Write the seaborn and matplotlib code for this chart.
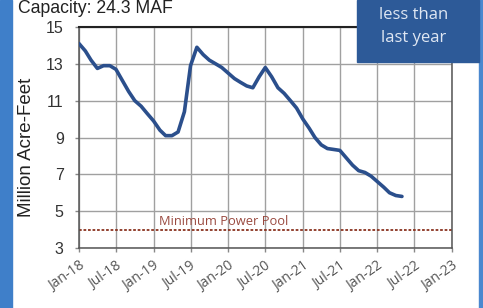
import numpy as np
import pandas as pd
import matplotlib
matplotlib.use("Agg")
import matplotlib.pyplot as plt
import matplotlib.dates as mdates
import matplotlib.transforms as mtransforms
import seaborn as sns

# monthly storage, Jan-18 .. May-22 (million acre-feet)
months = pd.date_range("2018-01-01", "2022-05-01", freq="MS")
storage = [
    14.1, 13.7, 13.2, 12.75, 12.9, 12.9, 12.7, 12.1, 11.5, 11.0, 10.7, 10.3,
    9.9, 9.4, 9.1, 9.1, 9.3, 10.4, 12.9, 13.9, 13.5, 13.2, 13.0, 12.8,
    12.5, 12.2, 12.0, 11.8, 11.7, 12.3, 12.8, 12.3, 11.7, 11.4, 11.0, 10.6,
    10.0, 9.5, 9.0, 8.6, 8.4, 8.35, 8.3, 7.9, 7.5, 7.2, 7.1, 6.9,
    6.6, 6.3, 6.0, 5.85, 5.8,
]
min_power_pool = 4.0
y_ticks = [3, 5, 7, 9, 11, 13, 15]
x_start, x_end = pd.Timestamp("2018-01-01"), pd.Timestamp("2023-01-01")

df = pd.DataFrame({"month": months, "storage": storage})

grid_col = "#a0a0a0"
sns.set_style("whitegrid", {"grid.color": grid_col, "axes.edgecolor": "#555555"})
plt.rcParams["font.family"] = ["Liberation Sans", "DejaVu Sans"]

fig = plt.figure(figsize=(4.83, 3.08), dpi=100)

rect = [79 / 483, 1 - 248 / 308, 373 / 483, 221 / 308]

# background axes only for the grid
ax_bg = fig.add_axes(rect, zorder=0)
ax_bg.set_xlim(x_start, x_end)
ax_bg.set_ylim(3, 15)
ax_bg.set_yticks(y_ticks)
ax_bg.xaxis.set_major_locator(mdates.MonthLocator(bymonth=[1, 7]))
ax_bg.grid(True, color=grid_col, linewidth=1.0)
ax_bg.tick_params(labelbottom=False, labelleft=False, length=0)
for sp in ax_bg.spines.values():
    sp.set_visible(False)

ax = fig.add_axes(rect, zorder=1)
ax.patch.set_alpha(0)

sns.lineplot(data=df, x="month", y="storage", ax=ax, color="#2b4f8c",
             linewidth=2.6, zorder=3)

ax.axhline(min_power_pool, color="#8a3320", linestyle=(0, (1.5, 1)),
           linewidth=1.3, zorder=2)
ax.text(pd.Timestamp("2019-12-10"), 4.45, "Minimum Power Pool",
        ha="center", va="center", fontsize=9.3, color="#9a4a40",
        family=["Open Sans", "DejaVu Sans"])

ax.set_xlim(x_start, x_end)
ax.set_ylim(3, 15)
ax.set_yticks(y_ticks)
ax.xaxis.set_major_locator(mdates.MonthLocator(bymonth=[1, 7]))
ax.xaxis.set_major_formatter(mdates.DateFormatter("%b-%y"))
ax.grid(False)
ax.tick_params(axis="y", labelsize=11.5, colors="#888888", labelcolor="#333333",
               length=3, width=1.0, direction="out", pad=8, left=True)
ax.tick_params(axis="x", length=3, width=1.0, direction="out", colors="#888888",
               labelcolor="#555555", pad=9, bottom=True)

# labels shifted a little to the right, like the original
shift = mtransforms.ScaledTranslation(4 / 100, 0, fig.dpi_scale_trans)
for lab in ax.get_xticklabels():
    lab.set_rotation(35)
    lab.set_ha("right")
    lab.set_va("center")
    lab.set_rotation_mode("anchor")
    lab.set_fontsize(10)
    lab.set_color("#555555")
    lab.set_family(["Open Sans", "DejaVu Sans"])
    lab.set_transform(lab.get_transform() + shift)

for side in ["left", "right", "bottom"]:
    ax.spines[side].set_color("#555555")
    ax.spines[side].set_linewidth(1.1)
ax.spines["top"].set_color("#222222")
ax.spines["top"].set_linewidth(1.5)

ax.set_xlabel("")
ax.set_ylabel("Million Acre-Feet", fontsize=13.5, color="#222222")
ax.yaxis.set_label_coords(-0.118, 0.457)

# blue side strips of the slide
fig.add_artist(plt.Rectangle((0, 0), 12 / 483, 1, transform=fig.transFigure,
                             color="#3f7fc9", zorder=4))
fig.add_artist(plt.Rectangle((479 / 483, 0), 4 / 483, 1, transform=fig.transFigure,
                             color="#4a88cf", zorder=4))

fig.text(18 / 483, 1 - 13 / 308, "Capacity: 24.3 MAF", fontsize=12.7,
         color="#222222", va="baseline", ha="left")

# blue callout box, top right
fig.add_artist(plt.Rectangle((357 / 483, 1 - 62 / 308), 122 / 483, 62 / 308,
                             transform=fig.transFigure, color="#2d5a98", zorder=5))
fig.text(414 / 483, 1 - 15 / 308, "less than", fontsize=12, color="#dfe7f3",
         ha="center", va="center", zorder=6, family=["Open Sans", "DejaVu Sans"])
fig.text(414 / 483, 1 - 38 / 308, "last year", fontsize=12, color="#dfe7f3",
         ha="center", va="center", zorder=6, family=["Open Sans", "DejaVu Sans"])

fig.savefig("out.png", dpi=100)
